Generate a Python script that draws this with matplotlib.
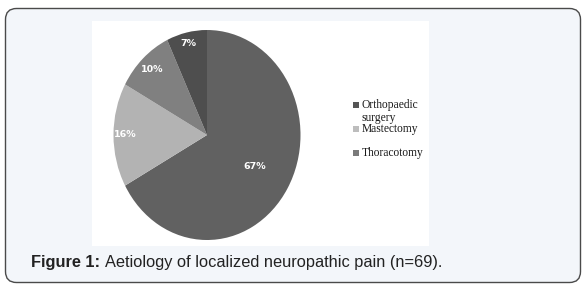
import matplotlib
matplotlib.use("Agg")
import matplotlib.pyplot as plt
from matplotlib.patches import FancyBboxPatch, Rectangle
import numpy as np

# ---- data ----
categories = ["Other", "Mastectomy", "Thoracotomy", "Orthopaedic surgery"]
values = [67, 16, 10, 7]
pct_labels = ["67%", "16%", "10%", "7%"]
colors = ["#616161", "#b3b3b3", "#808080", "#4e4e4e"]
label_radius = [0.59, 0.87, 0.86, 0.89]
legend_labels = ["Orthopaedic", "Mastectomy", "Thoracotomy"]
legend_colors = ["#555555", "#bdbdbd", "#7a7a7a"]
caption_bold = "Figure 1:"
caption_rest = "Aetiology of localized neuropathic pain (n=69)."

W, H = 587, 289
fig = plt.figure(figsize=(W / 100, H / 100), dpi=100)
fig.patch.set_facecolor("white")

def fx(px):
    return px / W

def fy(py):
    return 1 - py / H

# background axes for frame & panel
bg = fig.add_axes([0, 0, 1, 1])
bg.set_xlim(0, W)
bg.set_ylim(H, 0)
bg.axis("off")

box = FancyBboxPatch((5.5, 8.5), 575, 274, boxstyle="round,pad=0,rounding_size=11",
                     facecolor="#f3f6fa", edgecolor="#4a4a4a", linewidth=1.0)
bg.add_patch(box)
bg.add_patch(Rectangle((92, 21), 337, 225, facecolor="white", edgecolor="none"))

# pie axes (slightly taller than wide, as in the reference)
cx, cy, rx, ry = 207, 135, 93.5, 105
pax = fig.add_axes([fx(cx - rx), fy(cy + ry), 2 * rx / W, 2 * ry / H])
wedges, _ = pax.pie(values, colors=colors, startangle=90, counterclock=False,
                    radius=1, wedgeprops=dict(linewidth=0))
pax.set_aspect("auto")
pax.set_xlim(-1, 1)
pax.set_ylim(-1, 1)
pax.axis("off")

for w, lab, r in zip(wedges, pct_labels, label_radius):
    ang = np.deg2rad((w.theta1 + w.theta2) / 2)
    pax.text(r * np.cos(ang), r * np.sin(ang), lab, ha="center", va="center",
             color="white", fontsize=6.8, fontweight="bold", family="DejaVu Sans")

# legend drawn manually
leg_y = [105, 129, 153]
for lab, col, y in zip(legend_labels, legend_colors, leg_y):
    bg.add_patch(Rectangle((353, y - 3), 5.5, 5.5, facecolor=col, edgecolor="none"))
    bg.text(362, y, lab, ha="left", va="center", fontsize=8.3,
            family="Liberation Serif", color="#1a1a1a")
bg.text(362, 118.5, "surgery", ha="left", va="center", fontsize=8.3,
        family="Liberation Serif", color="#1a1a1a")

# caption
t1 = bg.text(31, 262, caption_bold, ha="left", va="center", fontsize=11.8,
             fontweight="bold", family="Liberation Sans", color="#222222")
bg.annotate(caption_rest, xy=(1, 0.5), xycoords=t1, xytext=(3.5, 0),
            textcoords="offset points", ha="left", va="center", fontsize=11.8,
            family="Liberation Sans", color="#222222")

fig.savefig("out.png", dpi=100, facecolor="white")
